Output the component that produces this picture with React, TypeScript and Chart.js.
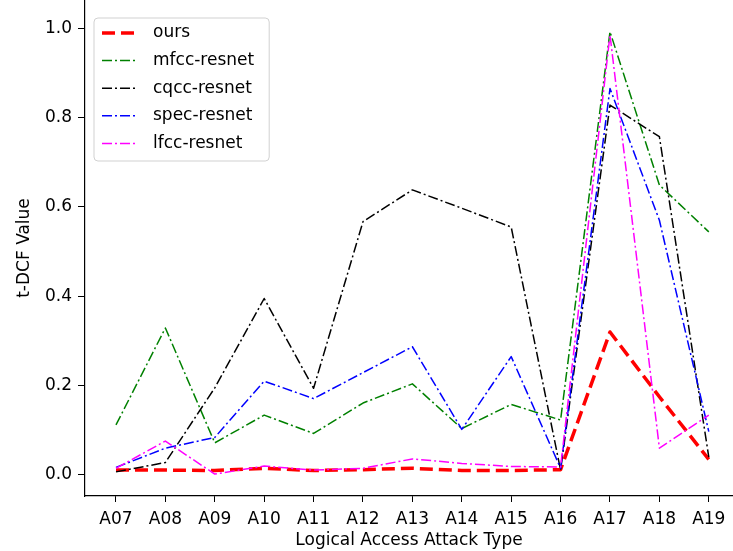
import React, { useEffect, useRef } from 'react';
import { Chart, registerables } from 'chart.js';

Chart.register(...registerables);

const categories = ['A07', 'A08', 'A09', 'A10', 'A11', 'A12', 'A13', 'A14', 'A15', 'A16', 'A17', 'A18', 'A19'];
const ours = [0.011, 0.011, 0.01, 0.015, 0.01, 0.012, 0.015, 0.01, 0.01, 0.012, 0.32, 0.175, 0.035];
const mfccResnet = [0.112, 0.329, 0.072, 0.134, 0.093, 0.161, 0.204, 0.104, 0.158, 0.123, 0.992, 0.649, 0.544];
const cqccResnet = [0.007, 0.028, 0.195, 0.395, 0.194, 0.567, 0.638, 0.597, 0.555, 0.011, 0.828, 0.757, 0.04];
const specResnet = [0.017, 0.06, 0.084, 0.21, 0.171, 0.229, 0.287, 0.102, 0.265, 0.015, 0.865, 0.57, 0.097];
const lfccResnet = [0.015, 0.076, 0.002, 0.02, 0.011, 0.015, 0.036, 0.026, 0.019, 0.018, 0.985, 0.06, 0.134];
const yTickValues = [0, 0.2, 0.4, 0.6, 0.8, 1.0];

const FONT = '"DejaVu Sans", "Liberation Sans", sans-serif';

const toPoints = (vals: number[]) => vals.map((v, i) => ({ x: i, y: v }));

const boxLegend = {
  id: 'boxLegend',
  afterDatasetsDraw(chart: any) {
    const ctx: CanvasRenderingContext2D = chart.ctx;
    const area = chart.chartArea;
    const ds = chart.data.datasets;
    ctx.save();
    ctx.font = `17px ${FONT}`;
    const left = area.left + 9;
    const top = area.top + 18;
    const rowH = 27.6;
    const textW = Math.max(...ds.map((d: any) => ctx.measureText(d.label).width));
    const w = 59 + textW + 15;
    const h = 143;
    const r = 4;
    ctx.beginPath();
    ctx.moveTo(left + r, top);
    ctx.lineTo(left + w - r, top);
    ctx.arcTo(left + w, top, left + w, top + r, r);
    ctx.lineTo(left + w, top + h - r);
    ctx.arcTo(left + w, top + h, left + w - r, top + h, r);
    ctx.lineTo(left + r, top + h);
    ctx.arcTo(left, top + h, left, top + h - r, r);
    ctx.lineTo(left, top + r);
    ctx.arcTo(left, top, left + r, top, r);
    ctx.closePath();
    ctx.fillStyle = 'rgba(255,255,255,0.8)';
    ctx.fill();
    ctx.strokeStyle = 'rgba(204,204,204,0.9)';
    ctx.lineWidth = 1;
    ctx.stroke();
    ds.forEach((d: any, i: number) => {
      const cy = top + 15 + i * rowH;
      ctx.beginPath();
      ctx.setLineDash(d.borderDash || []);
      ctx.lineWidth = d.borderWidth;
      ctx.lineCap = 'butt';
      ctx.strokeStyle = d.borderColor;
      ctx.moveTo(left + 8, cy);
      ctx.lineTo(left + 43, cy);
      ctx.stroke();
      ctx.setLineDash([]);
      ctx.fillStyle = '#000';
      ctx.textBaseline = 'middle';
      ctx.textAlign = 'left';
      ctx.fillText(d.label, left + 59, cy);
    });
    ctx.restore();
  },
};

export default function App() {
  const canvasRef = useRef<HTMLCanvasElement | null>(null);

  useEffect(() => {
    if (!canvasRef.current) return;
    Chart.defaults.font.family = FONT;
    Chart.defaults.font.size = 17;
    Chart.defaults.color = '#000';

    const dashDot = [10, 3, 2, 3];
    const common = {
      pointRadius: 0,
      pointHoverRadius: 0,
      tension: 0,
      fill: false,
      borderCapStyle: 'butt' as const,
      borderJoinStyle: 'round' as const,
    };

    const chart = new Chart(canvasRef.current, {
      type: 'line',
      data: {
        datasets: [
          { ...common, label: 'ours', data: toPoints(ours), borderColor: '#ff0000', borderWidth: 3.5, borderDash: [13, 6], order: 5 },
          { ...common, label: 'mfcc-resnet', data: toPoints(mfccResnet), borderColor: '#008000', borderWidth: 1.5, borderDash: dashDot, order: 4 },
          { ...common, label: 'cqcc-resnet', data: toPoints(cqccResnet), borderColor: '#000000', borderWidth: 1.5, borderDash: dashDot, order: 3 },
          { ...common, label: 'spec-resnet', data: toPoints(specResnet), borderColor: '#0000ff', borderWidth: 1.5, borderDash: dashDot, order: 2 },
          { ...common, label: 'lfcc-resnet', data: toPoints(lfccResnet), borderColor: '#ff00ff', borderWidth: 1.5, borderDash: dashDot, order: 1 },
        ],
      },
      options: {
        animation: false,
        responsive: true,
        maintainAspectRatio: false,
        layout: { padding: 0 },
        plugins: {
          legend: { display: false },
          tooltip: { enabled: false },
        },
        scales: {
          x: {
            type: 'linear',
            min: -0.627,
            max: 12.49,
            afterFit: (scale: any) => {
              scale.height = 55;
              scale.paddingLeft = 0;
              scale.paddingRight = 0;
            },
            afterBuildTicks: (scale: any) => {
              scale.ticks = categories.map((_, i) => ({ value: i }));
            },
            ticks: {
              includeBounds: false,
              autoSkip: false,
              maxRotation: 0,
              padding: 7,
              callback: (v: any) => categories[Math.round(Number(v))] ?? '',
              font: { size: 17 },
            },
            grid: { display: true, drawOnChartArea: false, drawTicks: true, tickLength: 6, color: '#000', lineWidth: 1 },
            border: { display: true, color: '#000', width: 1.2 },
            title: { display: true, text: 'Logical Access Attack Type', font: { size: 17 }, padding: { top: 0, bottom: 0 } },
          },
          y: {
            type: 'linear',
            min: -0.047,
            max: 1.063,
            afterFit: (scale: any) => {
              scale.width = 85;
              scale.paddingTop = 0;
              scale.paddingBottom = 0;
            },
            afterBuildTicks: (scale: any) => {
              scale.ticks = yTickValues.map((v) => ({ value: v }));
            },
            ticks: {
              includeBounds: false,
              padding: 6,
              callback: (v: any) => Number(v).toFixed(1),
              font: { size: 17 },
            },
            grid: { display: true, drawOnChartArea: false, drawTicks: true, tickLength: 7, color: '#000', lineWidth: 1 },
            border: { display: true, color: '#000', width: 1.2 },
            title: { display: true, text: 't-DCF Value', font: { size: 17 }, padding: { top: 14, bottom: 0 } },
          },
        },
      },
      plugins: [boxLegend],
    } as any);

    return () => chart.destroy();
  }, []);

  return (
    <div style={{ position: 'fixed', left: 0, top: 0, width: 733, height: 551, background: '#fff' }}>
      <canvas ref={canvasRef} />
    </div>
  );
}
